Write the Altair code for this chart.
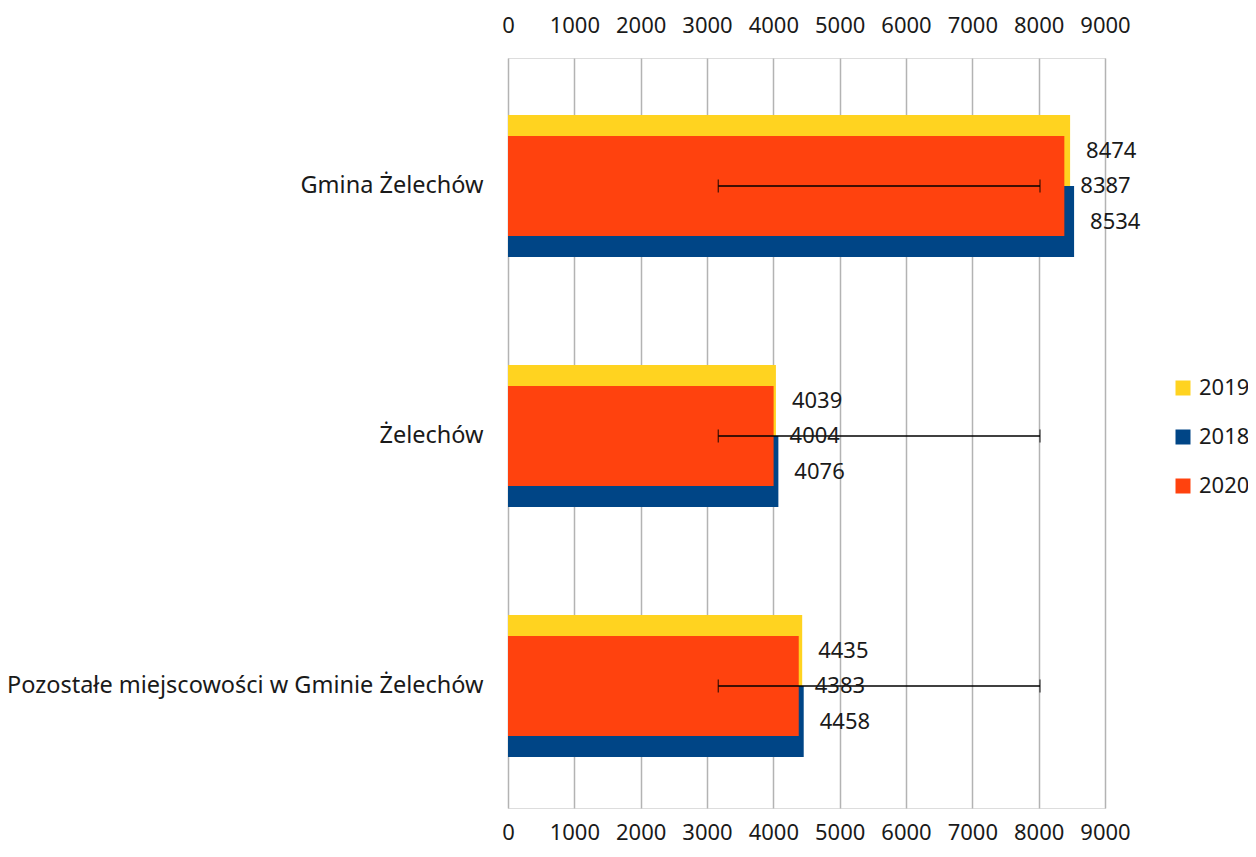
import altair as alt
import pandas as pd

categories = ["Gmina Żelechów", "Żelechów", "Pozostałe miejscowości w Gminie Żelechów"]
v2019 = [8474, 4039, 4435]
v2018 = [8534, 4076, 4458]
v2020 = [8387, 4004, 4383]
err_low = [3170, 3170, 3170]
err_high = [8020, 8020, 8020]
tick_values = [0, 1000, 2000, 3000, 4000, 5000, 6000, 7000, 8000, 9000]

years = ["2019", "2018", "2020"]
colors = ["#FFD320", "#004586", "#FF420E"]

back_rows = []
for c, a, b in zip(categories, v2019, v2018):
    back_rows.append({"cat": c, "year": "2019", "value": a})
    back_rows.append({"cat": c, "year": "2018", "value": b})
back = pd.DataFrame(back_rows)
front = pd.DataFrame({"cat": categories, "year": "2020", "value": v2020,
                      "lo": err_low, "hi": err_high})

FONT = "Noto Sans"
TXT = "#1a1a1a"
xscale = alt.Scale(domain=[0, 9000], nice=False)
yscale = alt.Scale(domain=categories, paddingInner=0.432, paddingOuter=0.216, align=0.528)
cscale = alt.Scale(domain=years, range=colors)

y_enc = alt.Y("cat:N", scale=yscale, sort=categories,
              axis=alt.Axis(title=None, domain=False, ticks=False, labelFontSize=23.5,
                            labelFont=FONT, labelColor=TXT, labelPadding=25,
                            labelLimit=0))
y_plain = alt.Y("cat:N", sort=categories)

back_bars = alt.Chart(back).mark_bar(opacity=1).encode(
    x=alt.X("value:Q", scale=xscale,
            axis=alt.Axis(orient="bottom", title=None, values=tick_values, format="d",
                          grid=True, gridColor="#b3b3b3", gridWidth=1.5, domain=False,
                          ticks=False, labelFontSize=22, labelFont=FONT, labelColor=TXT,
                          labelPadding=14, labelFlush=False)),
    y=y_enc,
    yOffset=alt.YOffset("year:N", scale=alt.Scale(domain=["2019", "2018"], paddingInner=0, paddingOuter=0)),
    color=alt.Color("year:N", scale=cscale,
                    legend=alt.Legend(title=None, orient="none", legendX=664, legendY=319,
                                      symbolType="square", symbolSize=225, symbolStrokeWidth=0,
                                      labelFontSize=22, labelFont=FONT, labelColor=TXT,
                                      rowPadding=27, labelOffset=5, values=years)),
)

front_bar = alt.Chart(front).mark_bar(size=100, opacity=1).encode(
    x=alt.X("value:Q", scale=xscale,
            axis=alt.Axis(orient="top", title=None, values=tick_values, format="d",
                          grid=False, domain=False, ticks=False, labelFontSize=22,
                          labelFont=FONT, labelColor=TXT, labelPadding=21,
                          labelFlush=False)),
    y=y_plain,
    color=alt.Color("year:N", scale=cscale),
)

back_text = alt.Chart(back).mark_text(align="left", baseline="middle", dx=16,
                                      fontSize=22, font=FONT, color=TXT).encode(
    x=alt.X("value:Q", scale=xscale, axis=None),
    y=y_plain,
    yOffset=alt.YOffset("year:N"),
    text="value:Q",
)

front_text = alt.Chart(front).mark_text(align="left", baseline="middle", dx=16,
                                        fontSize=22, font=FONT, color=TXT).encode(
    x=alt.X("value:Q", scale=xscale, axis=None),
    y=y_plain,
    text="value:Q",
)

err_rule = alt.Chart(front).mark_rule(color="#000000", strokeWidth=1.3).encode(
    x=alt.X("lo:Q", scale=xscale, axis=None),
    x2="hi:Q",
    y=y_plain,
)
err_lo = alt.Chart(front).mark_tick(color="#000000", size=13, thickness=1.3, orient="vertical").encode(
    x=alt.X("lo:Q", scale=xscale, axis=None),
    y=y_plain,
)
err_hi = alt.Chart(front).mark_tick(color="#000000", size=13, thickness=1.3, orient="vertical").encode(
    x=alt.X("hi:Q", scale=xscale, axis=None),
    y=y_plain,
)

chart = alt.layer(back_bars, front_bar, err_rule, err_lo, err_hi, back_text, front_text).resolve_axis(
    x="independent"
).properties(
    width=597, height=750,
    autosize=alt.AutoSizeParams(type="none"),
    padding={"left": 500, "top": 50, "right": 143, "bottom": 40},
).configure_view(stroke="#b3b3b3", strokeWidth=2).configure(background="white")

chart.save("out.html", embed_options={"renderer": "svg", "actions": False})
